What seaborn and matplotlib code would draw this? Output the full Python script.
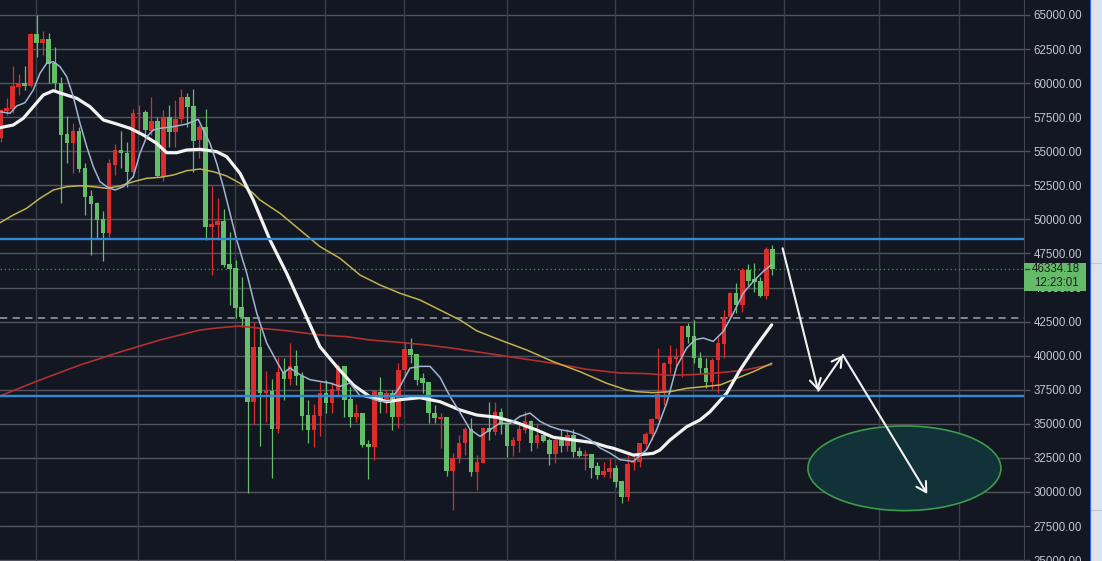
import matplotlib
matplotlib.use('Agg')
import matplotlib.pyplot as plt
import matplotlib.transforms as mtransforms
from matplotlib.patches import Ellipse, Rectangle
from matplotlib.lines import Line2D
import numpy as np
import pandas as pd
import seaborn as sns

# daily candles (oldest first)
opens = [55950, 57955, 58077, 59740, 59985, 59790, 63581, 62969, 63238, 61453,
         60034, 56267, 55631, 56487, 53748, 51718, 51180, 50030, 49027, 53993,
         55093, 54897, 53504, 57710, 57857, 56512, 57246, 53185, 57490, 56438,
         57343, 58958, 58322, 55827, 56756, 49467, 49590, 49859, 46729, 46411,
         43549, 42864, 36627, 40614, 37239, 37434, 34645, 38803, 38266, 39244,
         38510, 35648, 34547, 35575, 37239, 36504, 37483, 39244, 36798, 35477,
         35771, 33520, 33325, 37361, 36627, 37288, 35477, 38950, 40467, 40125,
         38339, 38094, 35771, 35379, 35477, 31563, 32468, 33618, 34596, 31490,
         32150, 34718, 34425, 35892, 35036, 33373, 33740, 34547, 35232, 33617,
         34180, 33813, 32786, 33813, 33373, 34180, 33030, 32639, 32786, 31905,
         31245, 31489, 31734, 30829, 29655, 32101, 32223, 33520, 34254, 35330,
         37237, 39390, 39733, 39928, 42178, 41445, 39855, 39121, 38094, 39684,
         40858, 42814, 44624, 43720, 46288, 45603, 45505, 44380, 47804]
highs = [58100, 58885, 61257, 60670, 61257, 63703, 65000, 63850, 63654, 62676,
         60474, 57588, 57099, 56805, 54115, 52158, 51302, 50641, 54408, 55533,
         56512, 55704, 58077, 58395, 58028, 59007, 57539, 58028, 58395, 58762,
         59545, 59251, 59545, 56928, 58077, 52452, 51547, 50739, 49101, 47022,
         45799, 42864, 42497, 42130, 38901, 38266, 39929, 39807, 40907, 40418,
         38828, 36749, 36455, 38094, 38217, 38094, 39391, 39244, 37728, 36455,
         35771, 33814, 37483, 38461, 37483, 37483, 39440, 41030, 41274, 40125,
         38706, 38094, 36382, 35771, 35477, 32835, 34180, 34792, 35404, 32713,
         34743, 36626, 36626, 36137, 35036, 34058, 34914, 35966, 35281, 35036,
         34180, 33935, 34058, 34547, 34596, 34596, 33324, 33079, 32786, 32223,
         32223, 32468, 31979, 30829, 32712, 32712, 33568, 34425, 35403, 40540,
         39561, 40784, 40540, 42178, 42423, 42619, 40295, 39806, 39806, 41396,
         43353, 44698, 45358, 46410, 46728, 46777, 45799, 47951, 48122]
lows = [55705, 57660, 57784, 59130, 59496, 59692, 61942, 62064, 59985, 59496,
        51228, 54164, 53381, 53504, 50324, 47389, 48611, 46973, 48733, 53258,
        53748, 52402, 53381, 56316, 56071, 56194, 53136, 52843, 55338, 55338,
        57050, 56805, 53504, 54482, 48489, 45920, 48489, 46533, 43720, 42742,
        42130, 29900, 34988, 33374, 35159, 31001, 34303, 36749, 37850, 37850,
        34547, 33569, 33276, 34107, 35771, 35771, 36994, 35526, 34792, 35159,
        33325, 30927, 32346, 35771, 35771, 34547, 34670, 38583, 39440, 37850,
        37239, 35037, 35037, 33202, 31172, 28677, 32101, 32713, 31172, 30145,
        32101, 33813, 34180, 34254, 32590, 32639, 32957, 34302, 33030, 33202,
        33691, 31979, 32150, 32957, 33030, 32590, 32541, 31612, 31000, 30927,
        31074, 31000, 30389, 29166, 29362, 31612, 31857, 33128, 33813, 35281,
        36382, 38705, 39194, 38461, 40955, 39439, 38705, 37605, 37531, 37237,
        39806, 42741, 43108, 43230, 45187, 44698, 44331, 44135, 45921]
closes = [58028, 58150, 59790, 59985, 59815, 63581, 62969, 63238, 61404, 59985,
          56194, 55631, 56487, 53675, 51669, 51131, 49956, 49027, 54115, 55093,
          54848, 53504, 57784, 57833, 56561, 57246, 53185, 57490, 56438, 57368,
          58958, 58273, 55778, 56756, 49467, 49638, 49859, 46655, 46362, 43525,
          42815, 36627, 40614, 37288, 37434, 34645, 38803, 38266, 39244, 38510,
          35575, 34547, 35648, 37239, 36554, 37532, 39244, 36749, 35477, 35771,
          33447, 33325, 37434, 36627, 37288, 35477, 38950, 40467, 40051, 38217,
          38021, 35771, 35404, 35526, 31563, 32468, 33618, 34596, 31490, 32224,
          34669, 34425, 35892, 34914, 33373, 33813, 34620, 35232, 33617, 34180,
          33764, 32786, 33813, 33373, 34180, 32957, 32639, 32786, 31734, 31245,
          31538, 31734, 30756, 29655, 32052, 32272, 33568, 34254, 35330, 37189,
          39439, 39977, 39928, 42178, 41396, 39806, 39072, 38094, 39684, 40907,
          42814, 44624, 43720, 46288, 45505, 45432, 44380, 47804, 46334.18]

# moving averages (x = candle number)
fast_day = [-0.08, 1.58, 2.69, 4.06, 5.44, 6.55, 7.66, 8.76, 9.87, 10.98,
            12.07, 13.18, 14.30, 15.39, 16.50, 17.61, 18.99, 20.36, 22.02, 23.13,
            24.25, 25.34, 26.45, 28.66, 30.88, 32.80, 33.63, 34.74, 35.85, 36.95,
            38.06, 39.17, 40.83, 42.49, 44.15, 45.80, 46.90, 48.01, 49.67, 51.33,
            54.64, 56.30, 57.96, 59.62, 61.28, 62.94, 64.59, 66.25, 67.91, 69.57,
            71.23, 72.89, 74.54, 76.20, 77.86, 79.52, 81.18, 82.84, 84.49, 86.15,
            87.81, 89.47, 91.13, 92.79, 94.44, 96.10, 97.76, 99.42, 101.08, 102.74,
            104.94, 107.16, 108.82, 110.48, 112.14, 113.80, 115.17, 116.55, 118.21, 119.87,
            121.53, 123.18, 124.84, 126.50, 127.89]
fast_ma = [57905, 57787, 58323, 58565, 59497, 60722, 61456, 61573, 61206, 60472,
           59005, 57053, 55336, 53868, 52768, 52401, 52159, 52401, 53135, 54852,
           56070, 56562, 56686, 56804, 57002, 57346, 56562, 55585, 54118, 52401,
           50448, 48489, 46063, 43128, 40925, 39583, 38724, 39091, 38607, 38240,
           37990, 37748, 37990, 37066, 36890, 36648, 36648, 37748, 39091, 39216,
           39216, 38408, 37015, 35840, 34593, 34080, 34571, 35059, 35016, 35548,
           35790, 35181, 34814, 34571, 34447, 34206, 33838, 33230, 32853, 32370,
           32246, 33105, 34573, 36523, 39217, 40558, 41175, 41293, 41050, 41784,
           43127, 44594, 45454, 46187, 46678]

mid_day = [-0.08, 2.12, 3.78, 5.44, 7.10, 8.76, 10.41, 12.64, 14.84, 17.05,
           19.27, 21.48, 23.68, 25.90, 27.56, 29.22, 30.88, 33.08, 35.85, 37.51,
           39.72, 41.92, 44.69, 47.46, 50.22, 52.98, 55.75, 58.51, 61.28, 64.05,
           66.80, 69.57, 72.89, 76.20, 78.97, 82.29, 85.61, 88.92, 91.68, 95.00,
           98.31, 100.53, 101.63, 104.94, 107.16, 108.26, 109.37, 111.03, 113.80, 116.00,
           117.66, 120.43, 122.64, 124.84, 127.89]
mid_ma = [56730, 56928, 57420, 58271, 59130, 59445, 59203, 58887, 58271, 57295,
          57002, 56686, 56195, 55585, 54895, 54895, 55094, 55145, 54969, 54602,
          53384, 51425, 48489, 46045, 43353, 40660, 39193, 37850, 36991, 36624,
          36800, 36918, 36624, 36015, 35648, 35479, 35083, 34547, 34011, 33815,
          33617, 33322, 33206, 32709, 32786, 32837, 33080, 33813, 34789, 35281,
          35888, 37251, 38949, 40418, 42264]

slow_day = [-0.08, 2.12, 4.34, 6.55, 8.76, 10.98, 13.18, 15.39, 17.61, 19.82,
            22.02, 24.25, 26.45, 28.66, 30.88, 33.08, 35.29, 37.51, 39.72, 41.92,
            43.03, 46.35, 49.67, 52.99, 56.30, 59.62, 62.94, 66.25, 69.57, 72.89,
            76.20, 78.97, 82.84, 87.26, 91.68, 96.10, 100.53, 103.85, 105.51, 108.26,
            111.03, 113.80, 116.55, 119.32, 122.09, 124.84, 127.89]
slow_ma = [49759, 50324, 50816, 51551, 52159, 52401, 52474, 52401, 52284, 52452,
           52768, 53017, 53090, 53259, 53574, 53698, 53500, 53185, 52650, 51917,
           51425, 50449, 49223, 48000, 47146, 45921, 45187, 44579, 44087, 43353,
           42619, 41827, 41152, 40418, 39560, 38826, 37975, 37483, 37359, 37290,
           37359, 37607, 37725, 37850, 38341, 38826, 39442]

long_day = [-0.08, 6.55, 13.18, 19.82, 26.45, 33.08, 36.40, 39.72, 43.03, 47.46,
            52.99, 57.41, 61.28, 66.80, 70.68, 75.09, 80.63, 86.15, 91.68, 97.21,
            102.74, 107.16, 111.03, 114.89, 119.32, 123.18, 125.95, 127.89]
long_ma = [37043, 38217, 39317, 40271, 41152, 41885, 42054, 42178, 42010, 41834,
           41518, 41394, 41152, 40954, 40785, 40543, 40174, 39808, 39442, 39001,
           38730, 38684, 38560, 38610, 38757, 38926, 39176, 39344]

# drawings
resistance = 48540
support = 37020
prior_level = 42750
path_day = [129.7, 135.6, 139.7, 153.7]
path_price = [47880, 37430, 40050, 29850]
zone_day, zone_price, zone_w, zone_h = 149.9, 31740, 32.0, 6215
time_grid = [5.89, 22.80, 38.89, 53.81, 66.92, 84.0, 101.91, 114.85, 129.93, 145.69, 158.96]
price_ticks = list(range(25000, 65001, 2500))
countdown = '12:23:01'

BG = '#131722'
UP = '#dc2d2d'     # this chart paints rising candles red
DOWN = '#64be69'

sns.set_style('dark', {'axes.facecolor': BG, 'figure.facecolor': BG})
plt.rcParams['font.family'] = ['Liberation Sans', 'DejaVu Sans']

fig = plt.figure(figsize=(11.02, 5.61), dpi=100)
ax = fig.add_axes([0, 0, 1024 / 1102, 1])
ax.set_facecolor(BG)

candles = pd.DataFrame({'open': opens, 'high': highs, 'low': lows, 'close': closes})
candles['day'] = np.arange(len(candles))
rising = candles['close'] >= candles['open']
colors = np.where(rising, UP, DOWN)
body_low = candles[['open', 'close']].min(axis=1)
body_h = (candles['close'] - candles['open']).abs().clip(lower=90)

for lvl in price_ticks:
    ax.axhline(lvl, color='#52555f', lw=1, zorder=0)
for d in time_grid:
    ax.axvline(d, color='#3b3f4a', lw=1, zorder=0)

ax.axhline(closes[-1], color='#3f8f48', lw=1, ls=(0, (1, 2)), zorder=1)
ax.axhline(prior_level, color='#8a8d96', lw=1.3, ls=(0, (4, 3)), zorder=1)

ax.vlines(candles['day'], candles['low'], candles['high'], colors=colors, lw=0.9, zorder=2)
ax.bar(candles['day'], body_h, bottom=body_low, width=0.76, color=colors, lw=0, zorder=3)

for dd, vv, col, lw in [(long_day, long_ma, '#b3302f', 1.2),
                        (slow_day, slow_ma, '#c2b24c', 1.1),
                        (mid_day, mid_ma, '#f2f2f2', 2.3),
                        (fast_day, fast_ma, '#9fb5d0', 1.1)]:
    sns.lineplot(x=dd, y=vv, ax=ax, color=col, lw=lw, sort=False, estimator=None,
                 zorder=4, solid_joinstyle='round', solid_capstyle='round')

ax.axhline(resistance, color='#2f8ad8', lw=1.7, zorder=5)
ax.axhline(support, color='#2f8ad8', lw=1.7, zorder=5)

zone = Ellipse((zone_day, zone_price), zone_w, zone_h, facecolor='#12323a',
               edgecolor='#3d9b4b', lw=1.2, zorder=5)
ax.add_patch(zone)
for k in range(len(path_day) - 1):
    ax.annotate('', xy=(path_day[k + 1], path_price[k + 1]),
                xytext=(path_day[k], path_price[k]),
                arrowprops=dict(arrowstyle='->,head_length=0.7,head_width=0.4',
                                color='#f2f2f2', lw=1.5, shrinkA=0, shrinkB=0),
                zorder=6)

ax.set_xlim(-0.083, 169.73)
ax.set_ylim(24935, 66100)
ax.set_xticks(time_grid)
ax.set_xticklabels([])
ax.tick_params(axis='x', length=0)
ax.yaxis.tick_right()
ax.set_yticks(price_ticks)
ax.set_yticklabels([f'{v:.2f}' for v in price_ticks])
ax.tick_params(axis='y', colors='#50535e', labelcolor='#c3c6ce', labelsize=8.3,
               length=4, width=1, pad=3)
ax.set_xlabel('')
ax.set_ylabel('')
for side in ['top', 'left', 'bottom']:
    ax.spines[side].set_visible(False)
ax.spines['right'].set_color('#434651')
ax.grid(False)

# last price tag on the price scale
trans = mtransforms.blended_transform_factory(fig.transFigure, ax.transData)
fig.add_artist(Rectangle((1024 / 1102, closes[-1] - 1570), 62 / 1102, 2055,
                         transform=trans, facecolor='#66bb6a', lw=0, zorder=10))
fig.add_artist(Line2D([1025 / 1102, 1029 / 1102], [closes[-1]] * 2, transform=trans,
                      color='#2a4a2c', lw=1, zorder=11))
fig.text(1056 / 1102, closes[-1], f'{closes[-1]:.2f}', transform=trans, ha='center',
         va='center', fontsize=8.3, color='#1b1f24', zorder=11)
fig.text(1056 / 1102, closes[-1] - 1000, countdown, transform=trans, ha='center',
         va='center', fontsize=8.3, color='#1b1f24', zorder=11)

# side toolbar strip
fig.add_artist(Rectangle((1090 / 1102, 0), 12 / 1102, 1, transform=fig.transFigure,
                         facecolor='#e0e3eb', lw=0, zorder=10))
fig.add_artist(Line2D([1089.5 / 1102] * 2, [0, 1], transform=fig.transFigure,
                      color='#2962ff', lw=0.8, zorder=11))
for yy in [263, 510]:
    fig.add_artist(Line2D([1091 / 1102, 1], [1 - yy / 561] * 2, transform=fig.transFigure,
                          color='#c4c7d0', lw=0.8, zorder=11))

fig.savefig('out.png', dpi=100, facecolor=BG)
